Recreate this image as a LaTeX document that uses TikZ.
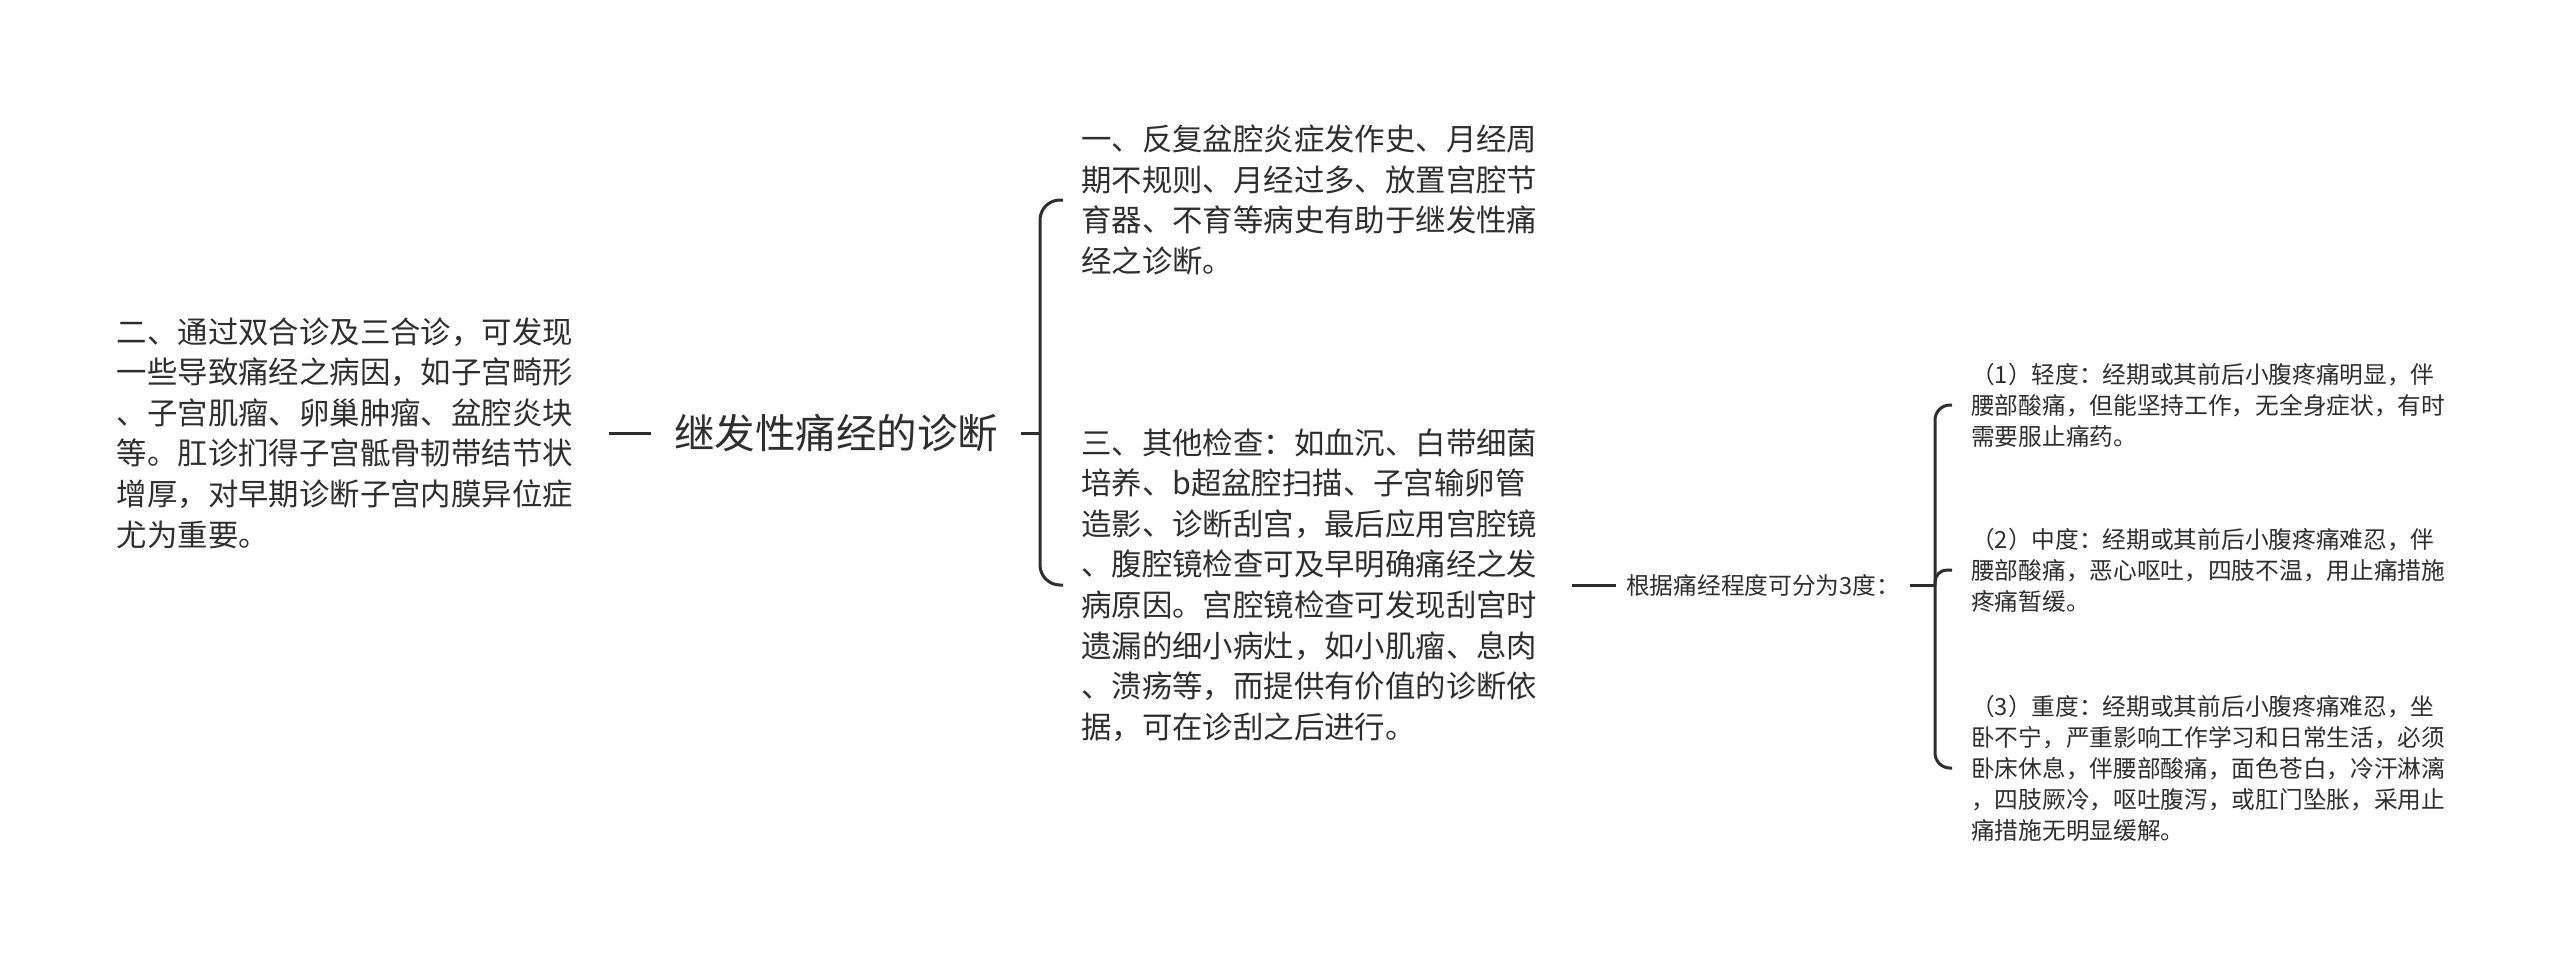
\documentclass[tikz,border=0pt]{standalone}
\usepackage{fontspec}
\setmainfont{Noto Sans CJK SC}
\definecolor{ink}{HTML}{2E2E2E}
\tikzset{topic/.style={font=\fontsize{40.5}{48}\selectfont,text=ink,inner xsep=23pt,inner ysep=6pt},
  sub/.style={font=\fontsize{30.4}{40.6}\selectfont,text=ink,align=left,text width=473pt,
    inner xsep=18pt,inner ysep=4pt},
  leaf/.style={font=\fontsize{23.7}{31}\selectfont,text=ink,align=left,inner xsep=19pt,inner ysep=3pt},
  link/.style={draw=ink,line width=3pt}}

\begin{document}
\begin{tikzpicture}[x=1pt,y=-1pt]
\useasboundingbox (0,0) rectangle (2560,959);
\node[topic] (root) at (836,433) {继发性痛经的诊断};
\node[sub,anchor=east,text width=475pt,inner xsep=17pt] (pelvic) at (609,433) {二、通过双合诊及三合诊，可发现\\一些导致痛经之病因，如子宫畸形\\、子宫肌瘤、卵巢肿瘤、盆腔炎块\\等。肛诊扪得子宫骶骨韧带结节状\\增厚，对早期诊断子宫内膜异位症\\尤为重要。};
\node[sub,anchor=west] (history) at (1063,200) {一、反复盆腔炎症发作史、月经周\\期不规则、月经过多、放置宫腔节\\育器、不育等病史有助于继发性痛\\经之诊断。};
\node[sub,anchor=west] (tests) at (1063,585) {三、其他检查：如血沉、白带细菌\\培养、b超盆腔扫描、子宫输卵管\\造影、诊断刮宫，最后应用宫腔镜\\、腹腔镜检查可及早明确痛经之发\\病原因。宫腔镜检查可发现刮宫时\\遗漏的细小病灶，如小肌瘤、息肉\\、溃疡等，而提供有价值的诊断依\\据，可在诊刮之后进行。};
\node[leaf,anchor=west,inner xsep=10pt] (grade) at (1616,585) {根据痛经程度可分为3度：};
\node[leaf,anchor=west] (mild) at (1952,405) {（1）轻度：经期或其前后小腹疼痛明显，伴\\腰部酸痛，但能坚持工作，无全身症状，有时\\需要服止痛药。};
\node[leaf,anchor=west] (moderate) at (1952,570) {（2）中度：经期或其前后小腹疼痛难忍，伴\\腰部酸痛，恶心呕吐，四肢不温，用止痛措施\\疼痛暂缓。};
\node[leaf,anchor=west] (severe) at (1952,768) {（3）重度：经期或其前后小腹疼痛难忍，坐\\卧不宁，严重影响工作学习和日常生活，必须\\卧床休息，伴腰部酸痛，面色苍白，冷汗淋漓\\，四肢厥冷，呕吐腹泻，或肛门坠胀，采用止\\痛措施无明显缓解。};
\coordinate (fork) at (1040,433);
\coordinate (fork2) at (1935,585);
% branches
\draw[link] (pelvic) -- (root);
\draw[link] (root) -- (fork);
\draw[link,rounded corners=20pt] (history.west) -| (fork) |- (tests.west);
\draw[link] (tests) -- (grade);
\draw[link] (grade) -- (fork2);
\draw[link,rounded corners=15pt] (mild.west) -| (fork2) |- (severe.west);
\draw[link,rounded corners=12pt] (moderate.west) -| (fork2);
\end{tikzpicture}
\end{document}
